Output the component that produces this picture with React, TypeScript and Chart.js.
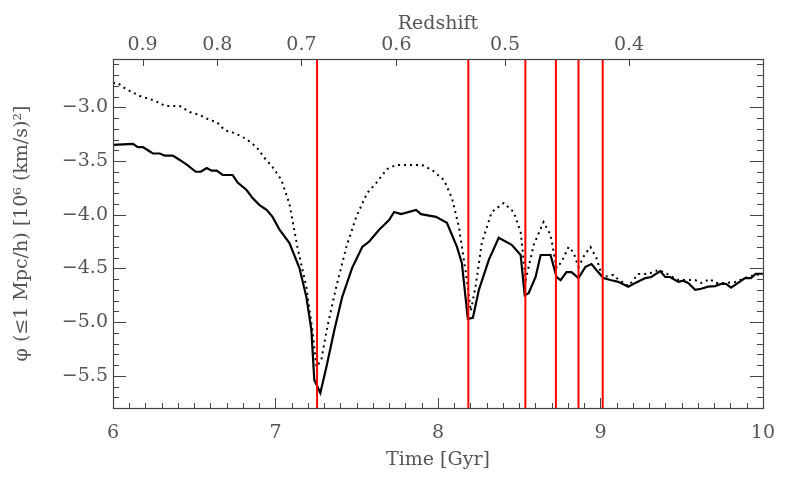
import React, { useEffect, useRef } from 'react';
import { Chart, registerables } from 'chart.js';
Chart.register(...registerables);

// ---- data ----
const solidTime = [6.000, 6.123, 6.153, 6.184, 6.215, 6.245, 6.288, 6.319, 6.368, 6.411,
  6.460, 6.509, 6.540, 6.577, 6.607, 6.638, 6.675, 6.736, 6.767, 6.822,
  6.859, 6.902, 6.945, 6.982, 7.025, 7.086, 7.147, 7.190, 7.221, 7.239,
  7.276, 7.313, 7.362, 7.411, 7.472, 7.534, 7.577, 7.638, 7.699, 7.730, 7.773,
  7.865, 7.896, 7.988, 8.055, 8.117, 8.147, 8.184, 8.215, 8.252, 8.313,
  8.374, 8.454, 8.509, 8.534, 8.558, 8.601, 8.632, 8.693, 8.730, 8.755,
  8.791, 8.822, 8.865, 8.908, 8.945, 8.975, 9.018, 9.067, 9.110, 9.172,
  9.215, 9.276, 9.313, 9.368, 9.399, 9.429, 9.479, 9.509, 9.540, 9.583,
  9.620, 9.663, 9.706, 9.742, 9.773, 9.804, 9.847, 9.890, 9.926, 9.957, 10.000];
const solidPhi = [-3.35, -3.34, -3.37, -3.37, -3.40, -3.43, -3.43, -3.45, -3.45, -3.49,
  -3.54, -3.60, -3.60, -3.565, -3.59, -3.59, -3.63, -3.63, -3.70, -3.77,
  -3.845, -3.91, -3.955, -4.02, -4.14, -4.265, -4.495, -4.765, -5.075, -5.54,
  -5.66, -5.42, -5.075, -4.765, -4.495, -4.30, -4.25, -4.14, -4.05, -3.975, -3.995,
  -3.955, -3.995, -4.02, -4.075, -4.30, -4.45, -4.97, -4.96, -4.70, -4.42,
  -4.215, -4.28, -4.375, -4.75, -4.73, -4.58, -4.375, -4.375, -4.58, -4.61,
  -4.535, -4.535, -4.59, -4.485, -4.46, -4.515, -4.59, -4.61, -4.625, -4.67,
  -4.635, -4.59, -4.58, -4.525, -4.58, -4.58, -4.625, -4.615, -4.635, -4.70,
  -4.69, -4.67, -4.665, -4.645, -4.645, -4.68, -4.635, -4.59, -4.59, -4.55, -4.55];

const dottedTime = [6.000, 6.031, 6.061, 6.104, 6.166, 6.227, 6.288, 6.319, 6.411, 6.472,
  6.534, 6.595, 6.638, 6.687, 6.748, 6.798, 6.828, 6.883, 6.933, 6.982,
  7.037, 7.086, 7.135, 7.190, 7.227, 7.252, 7.282, 7.319, 7.374, 7.436,
  7.497, 7.564, 7.620, 7.687, 7.742, 7.822, 7.902, 7.963, 8.037, 8.086,
  8.129, 8.172, 8.202, 8.233, 8.270, 8.331, 8.405, 8.466, 8.509, 8.540,
  8.589, 8.650, 8.693, 8.730, 8.761, 8.804, 8.834, 8.865, 8.902, 8.939,
  8.975, 9.012, 9.049, 9.080, 9.098, 9.172, 9.233, 9.294, 9.356, 9.399,
  9.479, 9.583, 9.620, 9.675, 9.706, 9.773, 9.828, 9.890, 9.951, 10.000];
const dottedPhi = [-2.774, -2.774, -2.811, -2.848, -2.895, -2.923, -2.960, -2.988, -2.988, -3.044,
  -3.072, -3.118, -3.137, -3.212, -3.240, -3.277, -3.304, -3.370, -3.472, -3.556,
  -3.677, -3.90, -4.301, -4.673, -5.074, -5.418, -5.353, -5.045, -4.673, -4.301,
  -4.021, -3.798, -3.705, -3.575, -3.537, -3.537, -3.537, -3.584, -3.677, -3.845,
  -4.115, -4.543, -4.897, -4.654, -4.263, -3.975, -3.891, -3.975, -4.161, -4.608,
  -4.282, -4.068, -4.189, -4.496, -4.440, -4.30, -4.35, -4.487, -4.375, -4.301,
  -4.403, -4.580, -4.571, -4.561, -4.589, -4.664, -4.552, -4.552, -4.515, -4.543,
  -4.608, -4.608, -4.636, -4.599, -4.636, -4.636, -4.627, -4.589, -4.561, -4.552];

const eventTimes = [7.256, 8.187, 8.538, 8.726, 8.865, 9.014];

const timeTicks = [6, 7, 8, 9, 10];
const phiTicks = [-5.5, -5.0, -4.5, -4.0, -3.5, -3.0];
const redshiftLabels = ['0.9', '0.8', '0.7', '0.6', '0.5', '0.4'];
const redshiftTimes = [6.182, 6.642, 7.160, 7.744, 8.413, 9.176];

const X_MIN = 6;
const X_MAX = 10;
const Y_MIN = -5.8;
const Y_MAX = -2.55;

const FONT = { family: "'DejaVu Serif', serif", size: 19 };
const TEXT = '#555';

const frameTicks = {
  id: 'frameTicks',
  afterDatasetsDraw(chart: any) {
    const { ctx, chartArea: a, scales } = chart;
    const xs = scales.x;
    const ys = scales.y;
    ctx.save();
    ctx.strokeStyle = '#444';
    ctx.lineWidth = 1;
    ctx.beginPath();
    const nx = Math.round((X_MAX - X_MIN) * 10);
    for (let i = 0; i <= nx; i++) {
      const v = X_MIN + i / 10;
      const px = Math.round(xs.getPixelForValue(v)) + 0.5;
      const len = i % 10 === 0 ? 10 : 5;
      ctx.moveTo(px, a.bottom);
      ctx.lineTo(px, a.bottom - len);
    }
    for (const t of redshiftTimes) {
      const px = Math.round(xs.getPixelForValue(t)) + 0.5;
      ctx.moveTo(px, a.top);
      ctx.lineTo(px, a.top + 7);
    }
    const y0 = Math.ceil(Y_MIN * 10);
    const y1 = Math.floor(Y_MAX * 10);
    for (let k = y0; k <= y1; k++) {
      const v = k / 10;
      const py = Math.round(ys.getPixelForValue(v)) + 0.5;
      const major = k % 5 === 0;
      const len = major ? 13 : 6;
      ctx.moveTo(a.left, py);
      ctx.lineTo(a.left + len, py);
      ctx.moveTo(a.right, py);
      ctx.lineTo(a.right - len, py);
    }
    ctx.stroke();
    ctx.lineWidth = 1.2;
    ctx.strokeRect(Math.round(a.left) + 0.5, Math.round(a.top) + 0.5,
      Math.round(a.right - a.left), Math.round(a.bottom - a.top));
    ctx.restore();
  },
};

export default function App() {
  const ref = useRef<HTMLCanvasElement>(null);
  useEffect(() => {
    const solid = solidTime.map((t, i) => ({ x: t, y: solidPhi[i] }));
    const dotted = dottedTime.map((t, i) => ({ x: t, y: dottedPhi[i] }));
    const redSets = eventTimes.map((t) => ({
      data: [{ x: t, y: Y_MIN }, { x: t, y: Y_MAX }],
      borderColor: '#ff0000',
      borderWidth: 2,
      pointRadius: 0,
      xAxisID: 'x',
      yAxisID: 'y',
    }));
    const chart = new Chart(ref.current!, {
      type: 'line',
      data: {
        datasets: [
          ...redSets,
          {
            data: solid,
            borderColor: '#000',
            borderWidth: 2.2,
            pointRadius: 0,
            tension: 0,
            xAxisID: 'x',
            yAxisID: 'y',
          },
          {
            data: dotted,
            borderColor: '#000',
            borderWidth: 2,
            borderDash: [2, 4],
            pointRadius: 0,
            tension: 0,
            xAxisID: 'x',
            yAxisID: 'y',
          },
        ],
      } as any,
      options: {
        animation: false,
        responsive: false,
        devicePixelRatio: 1,
        layout: { padding: { left: 0, top: 0, right: 24, bottom: 0 } },
        plugins: { legend: { display: false }, tooltip: { enabled: false } },
        scales: {
          x: {
            type: 'linear',
            position: 'bottom',
            min: X_MIN,
            max: X_MAX,
            grid: { display: false, drawTicks: false },
            border: { display: false },
            afterBuildTicks: (axis: any) => { axis.ticks = timeTicks.map((v) => ({ value: v })); },
            afterFit: (s: any) => { s.height = 80; },
            ticks: {
              autoSkip: false, maxRotation: 0, padding: 14, color: TEXT, font: FONT,
              callback: (v: any) => String(v),
            },
            title: { display: true, text: 'Time [Gyr]', color: TEXT, font: FONT, padding: { top: 0, bottom: 17 } },
          },
          x2: {
            type: 'linear',
            position: 'top',
            min: X_MIN,
            max: X_MAX,
            grid: { display: false, drawTicks: false },
            border: { display: false },
            afterBuildTicks: (axis: any) => { axis.ticks = redshiftTimes.map((v) => ({ value: v })); },
            afterFit: (s: any) => { s.height = 59; },
            ticks: {
              autoSkip: false, maxRotation: 0, padding: 3, color: TEXT, font: FONT,
              callback: (_v: any, i: number) => redshiftLabels[i],
            },
            title: { display: true, text: 'Redshift', color: TEXT, font: FONT, padding: { top: 13, bottom: 0 } },
          },
          y: {
            type: 'linear',
            position: 'left',
            min: Y_MIN,
            max: Y_MAX,
            grid: { display: false, drawTicks: false },
            border: { display: false },
            afterBuildTicks: (axis: any) => { axis.ticks = phiTicks.map((v) => ({ value: v })); },
            afterFit: (s: any) => { s.width = 113; },
            ticks: {
              autoSkip: false, padding: 5, color: TEXT, font: FONT,
              callback: (v: any) => (v < 0 ? '\u2212' : '') + Math.abs(v).toFixed(1),
            },
            title: { display: true, text: 'φ (≤1 Mpc/h) [10⁶ (km/s)²]', color: TEXT, font: FONT, padding: { top: 11, bottom: 0 } },
          },
        },
      } as any,
      plugins: [frameTicks],
    });
    return () => chart.destroy();
  }, []);
  return (
    <div style={{ position: 'absolute', left: 0, top: 0, width: 789, height: 488, background: '#fff' }}>
      <canvas ref={ref} width={789} height={488} style={{ width: 789, height: 488, display: 'block' }} />
    </div>
  );
}
